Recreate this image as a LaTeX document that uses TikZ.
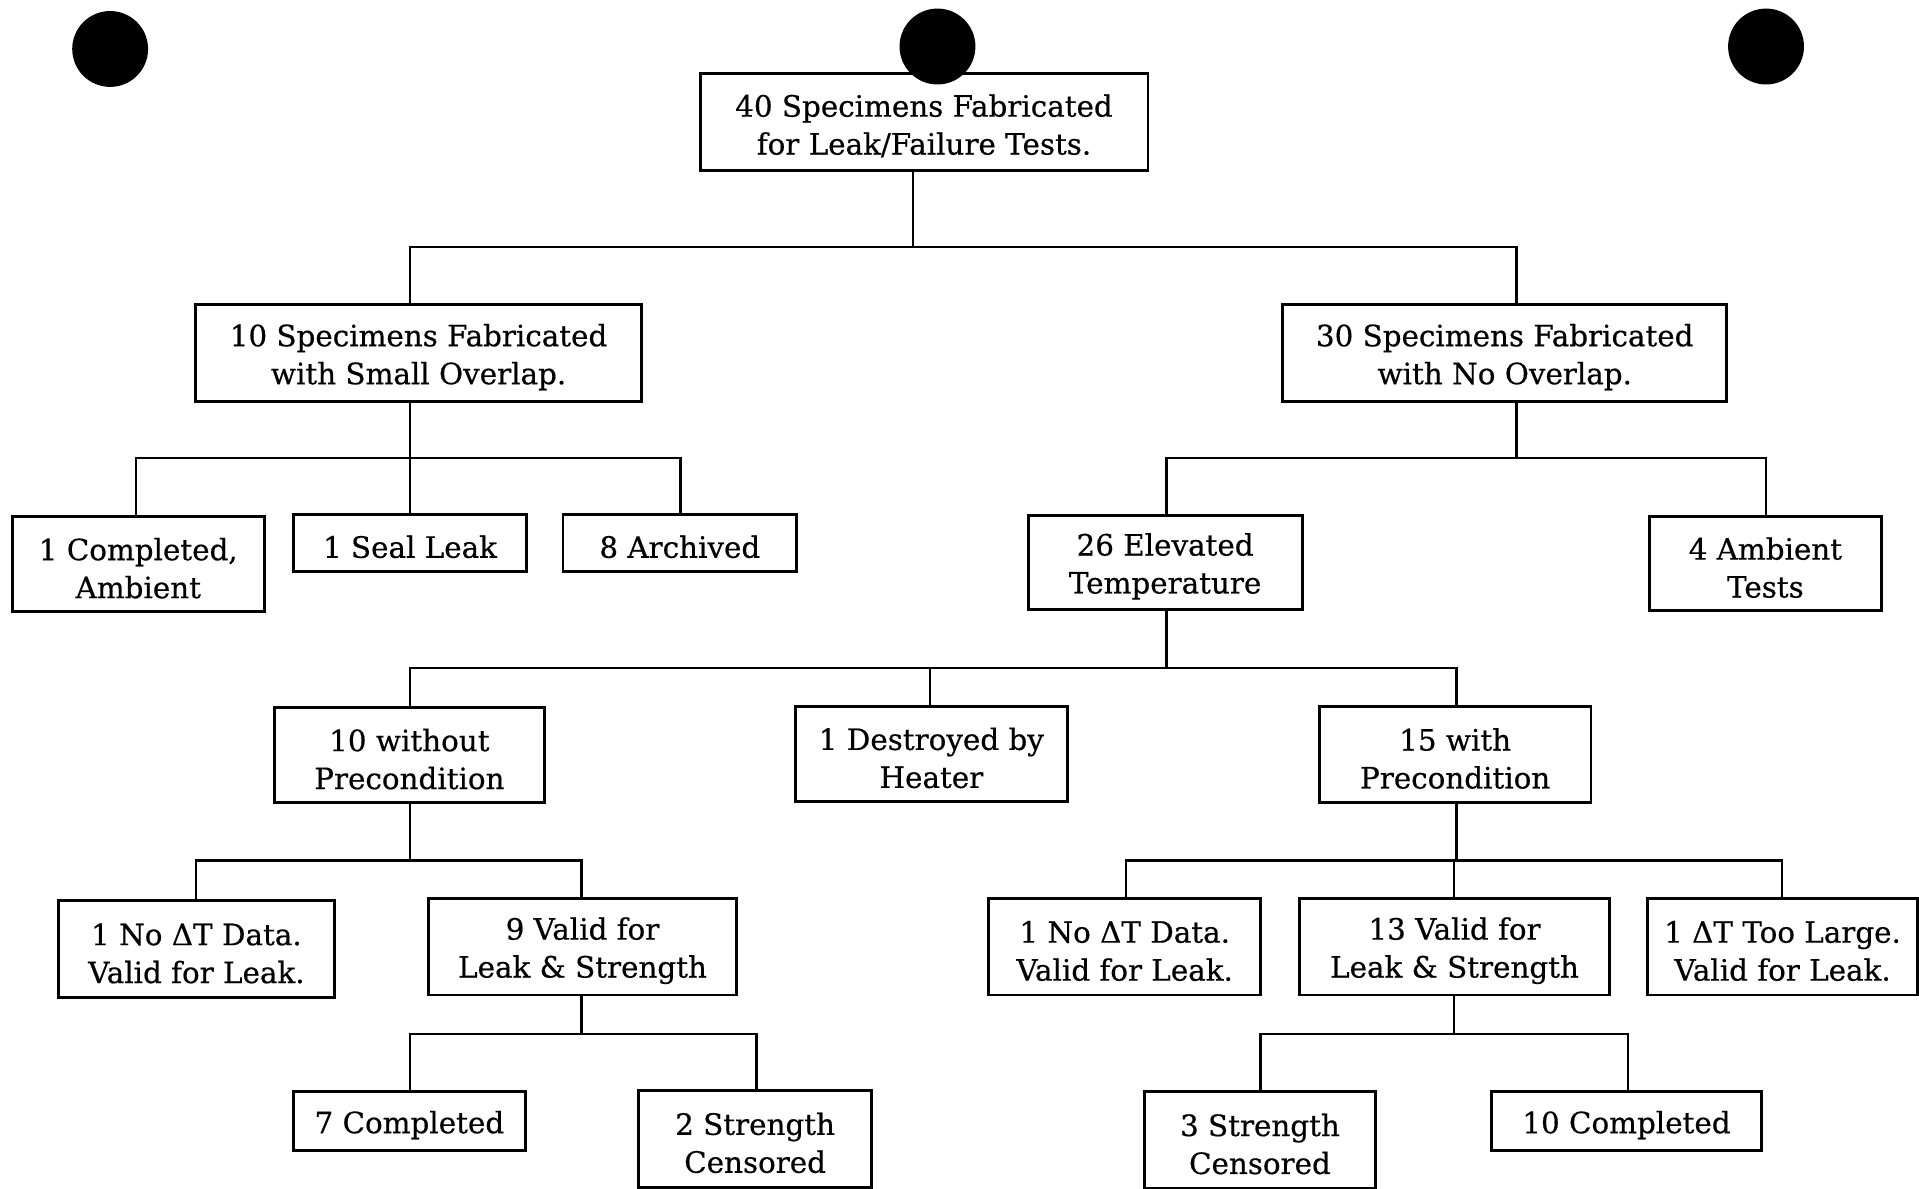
\documentclass[tikz,border=0pt]{standalone}
\usepackage{fontspec}
\setmainfont{DejaVu Serif}[FakeBold=0.5]
\newcommand\mystrut{\rule{0pt}{12.4pt}}
\begin{document}
\begin{tikzpicture}[x=0.5pt,y=-0.5pt,
  box/.style={draw, line width=1.2pt, inner sep=0pt, align=center,
    font=\fontsize{12pt}{15.5pt}\selectfont},
  conn/.style={line width=1pt},
  dot/.style={fill=black}]
\useasboundingbox[fill=white] (0,0) rectangle (1568,971);
% boxes
\node[box, minimum width=183pt, minimum height=39.5pt] (top) at (755,99.5) {\mystrut 40 Specimens Fabricated\\for Leak/Failure Tests.};
\node[box, minimum width=182pt, minimum height=39.5pt] (l1) at (342,288.5) {\mystrut 10 Specimens Fabricated\\with Small Overlap.};
\node[box, minimum width=181.5pt, minimum height=39.5pt] (r1) at (1229.5,288.5) {\mystrut 30 Specimens Fabricated\\with No Overlap.};
\node[box, minimum width=103pt, minimum height=39pt] (c1) at (113,461) {\mystrut 1 Completed,\\Ambient};
\node[box, minimum width=95pt, minimum height=23.5pt] (c2) at (335,443.5) {\mystrut 1 Seal Leak};
\node[box, minimum width=95.5pt, minimum height=23.5pt] (c3) at (555.5,443.5) {\mystrut 8 Archived};
\node[box, minimum width=112pt, minimum height=38.5pt] (e26) at (952,459.5) {\mystrut 26 Elevated\\Temperature};
\node[box, minimum width=94.5pt, minimum height=38.5pt] (amb) at (1442.5,460.5) {\mystrut 4 Ambient\\Tests};
\node[box, minimum width=110.5pt, minimum height=39pt] (wo) at (334.5,617) {\mystrut 10 without\\Precondition};
\node[box, minimum width=111pt, minimum height=39pt] (dh) at (761,616) {\mystrut 1 Destroyed by\\Heater};
\node[box, minimum width=111pt, minimum height=39.5pt] (wp) at (1189,616.5) {\mystrut 15 with\\Precondition};
\node[box, minimum width=112.5pt, minimum height=39.5pt] (nd1) at (160.5,775.5) {\mystrut 1 No ΔT Data.\\Valid for Leak.};
\node[box, minimum width=126pt, minimum height=39.5pt] (v9) at (476,773.5) {\mystrut 9 Valid for\\Leak \& Strength};
\node[box, minimum width=111pt, minimum height=39.5pt] (nd2) at (919,773.5) {\mystrut 1 No ΔT Data.\\Valid for Leak.};
\node[box, minimum width=126.5pt, minimum height=39.5pt] (v13) at (1188.5,773.5) {\mystrut 13 Valid for\\Leak \& Strength};
\node[box, minimum width=110.5pt, minimum height=39.5pt] (tl) at (1456.5,773.5) {\mystrut 1 ΔT Too Large.\\Valid for Leak.};
\node[box, minimum width=94.5pt, minimum height=24pt] (c7) at (334.5,916) {\mystrut 7 Completed};
\node[box, minimum width=95pt, minimum height=39.5pt] (s2) at (617,930.5) {\mystrut 2 Strength\\Censored};
\node[box, minimum width=94.5pt, minimum height=39.5pt] (s3) at (1029.5,931.5) {\mystrut 3 Strength\\Censored};
\node[box, minimum width=110pt, minimum height=24pt] (c10) at (1329,916) {\mystrut 10 Completed};
% junction coordinates
\coordinate (j0) at (746,202); \coordinate (a1) at (335,202); \coordinate (a2) at (1239,202);
\coordinate (j1) at (335,374); \coordinate (b1) at (111,374); \coordinate (b3) at (556,374);
\coordinate (j2) at (1239,374); \coordinate (d1) at (953,374); \coordinate (d2) at (1443,374);
\coordinate (j3) at (953,546); \coordinate (e1) at (335,546); \coordinate (e2) at (760,546); \coordinate (e3) at (1190,546);
\coordinate (j4) at (335,703); \coordinate (f1) at (160,703); \coordinate (f2) at (475,703);
\coordinate (j5) at (475,845); \coordinate (g1) at (335,845); \coordinate (g2) at (618,845);
\coordinate (j6) at (1190,703); \coordinate (h1) at (920,703); \coordinate (h2) at (1188,703); \coordinate (h3) at (1456,703);
\coordinate (j7) at (1188,845); \coordinate (k1) at (1030,845); \coordinate (k2) at (1330,845);
% connectors
\draw[conn] (top.south -| j0) -- (j0);
\draw[conn] (l1.north -| a1) -- (a1) -- (a2) -- (r1.north -| a2);
\draw[conn] (l1.south -| j1) -- (j1);
\draw[conn] (c1.north -| b1) -- (b1) -- (b3) -- (c3.north -| b3);
\draw[conn] (c2.north -| j1) -- (j1);
\draw[conn] (r1.south -| j2) -- (j2);
\draw[conn] (e26.north -| d1) -- (d1) -- (d2) -- (amb.north -| d2);
\draw[conn] (e26.south -| j3) -- (j3);
\draw[conn] (wo.north -| e1) -- (e1) -- (e3) -- (wp.north -| e3);
\draw[conn] (dh.north -| e2) -- (e2);
\draw[conn] (wo.south -| j4) -- (j4);
\draw[conn] (nd1.north -| f1) -- (f1) -- (f2) -- (v9.north -| f2);
\draw[conn] (v9.south -| j5) -- (j5);
\draw[conn] (c7.north -| g1) -- (g1) -- (g2) -- (s2.north -| g2);
\draw[conn] (wp.south -| j6) -- (j6);
\draw[conn] (nd2.north -| h1) -- (h1) -- (h3) -- (tl.north -| h3);
\draw[conn] (v13.north -| h2) -- (h2);
\draw[conn] (v13.south -| j7) -- (j7);
\draw[conn] (s3.north -| k1) -- (k1) -- (k2) -- (c10.north -| k2);
% punch holes
\fill[dot] (90,40) circle[radius=15.5pt];
\fill[dot] (766,38) circle[radius=15.5pt];
\fill[dot] (1443,38) circle[radius=15.5pt];
\end{tikzpicture}
\end{document}
